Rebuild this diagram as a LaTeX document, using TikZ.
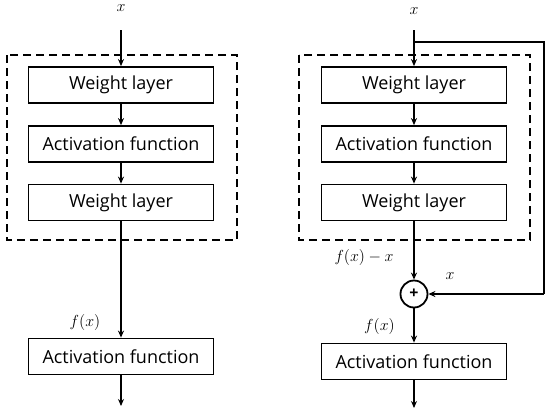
\RequirePackage{fix-cm}
\documentclass[tikz,border=0pt]{standalone}
\usepackage{fontspec}
\setsansfont{Open Sans}
\usetikzlibrary{arrows.meta}
\begin{document}
\begin{tikzpicture}[x=1pt,y=-1pt,
  box/.style={draw,line width=1.8pt,minimum width=185pt,minimum height=36pt,inner sep=0pt,font=\sffamily\fontsize{18}{20}\selectfont},
  dashbox/.style={draw,line width=1.8pt,dash pattern=on 8pt off 5pt},
  conn/.style={line width=1.6pt,-{Stealth[length=7pt,width=6pt]}},
  lab/.style={font=\fontsize{16}{18}\selectfont,inner sep=0pt}]
\useasboundingbox (0,0) rectangle (550,413);
% left
\node[lab] (xl) at (121,8) {$x$};
\coordinate (sl) at (121,30);
\draw[dashbox] (7,55) rectangle (237,240);
\node[box] (wl1) at (121,85) {Weight layer};
\node[box] (al1) at (121,144) {Activation function};
\node[box] (wl2) at (121,202.5) {Weight layer};
\node[box] (al2) at (121,356.5) {Activation function};
\coordinate (el) at (121,406);
\node[lab] (fxl) at (85,322) {$f(x)$};
\draw[conn] (sl) -- (wl1);
\draw[conn] (wl1) -- (al1);
\draw[conn] (al1) -- (wl2);
\draw[conn] (wl2) -- (al2);
\draw[conn] (al2) -- (el);
% right
\node[lab] (xr) at (414,11) {$x$};
\coordinate (sr) at (414,30);
\coordinate (br) at (414,42);
\coordinate (c1) at (544,42);
\coordinate (c2) at (544,294);
\draw[dashbox] (299,55) rectangle (530,240);
\node[box] (wr1) at (414,85) {Weight layer};
\node[box] (ar1) at (414,144) {Activation function};
\node[box] (wr2) at (414,202.5) {Weight layer};
\node[draw,circle,line width=1.8pt,minimum size=27pt,inner sep=0pt,font=\sffamily\bfseries\fontsize{16}{18}\selectfont] (plus) at (414,294) {+};
\node[box] (ar2) at (414,361.5) {Activation function};
\coordinate (er) at (414,408);
\node[lab] (fmx) at (364,257) {$f(x)-x$};
\node[lab] (xs) at (450,276) {$x$};
\node[lab] (fxr) at (379.5,326) {$f(x)$};
\draw[conn] (sr) -- (wr1);
\draw[line width=1.6pt] (br) -- (c1) -- (c2);
\draw[conn] (c2) -- (plus);
\draw[conn] (wr1) -- (ar1);
\draw[conn] (ar1) -- (wr2);
\draw[conn] (wr2) -- (plus);
\draw[conn] (plus) -- (ar2);
\draw[conn] (ar2) -- (er);
\end{tikzpicture}
\end{document}
